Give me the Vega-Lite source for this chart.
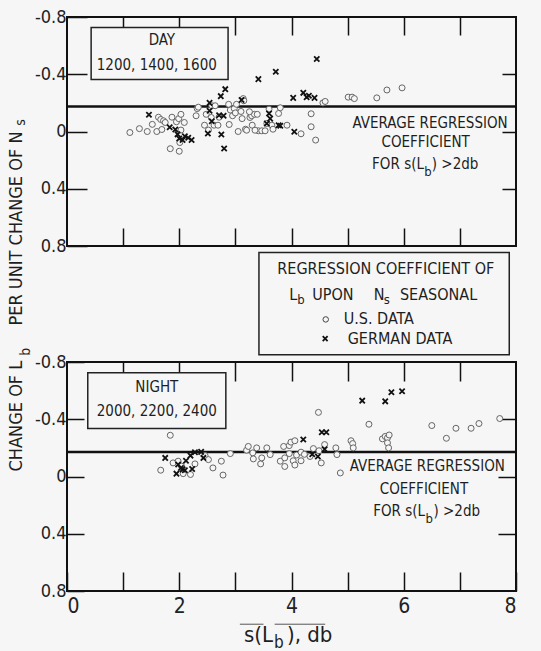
{
 "$schema": "https://vega.github.io/schema/vega-lite/v6.json",
 "background": "#f6f6f6",
 "padding": {"left": 7, "top": 7, "right": 25, "bottom": 20},
 "config": {
  "view": {"stroke": "#111", "strokeWidth": 2},
  "font": "DejaVu Sans Condensed, DejaVu Sans, sans-serif",
  "axis": {"labelFont": "DejaVu Sans Condensed, DejaVu Sans, sans-serif", "labelColor": "#222", "tickColor": "#111", "tickWidth": 1.5, "grid": false, "domain": false},
  "text": {"font": "DejaVu Sans Condensed, DejaVu Sans, sans-serif", "color": "#1e1e1e"}
 },
 "datasets": {
  "pts": [
   {"p":"day","s":"US","x":1.12,"y":0.007},{"p":"day","s":"US","x":1.29,"y":-0.02},{"p":"day","s":"US","x":1.43,"y":0.0},{"p":"day","s":"US","x":1.52,"y":-0.05},{"p":"day","s":"US","x":1.6,"y":0.0},{"p":"day","s":"US","x":1.63,"y":-0.1},{"p":"day","s":"US","x":1.67,"y":-0.084},{"p":"day","s":"US","x":1.69,"y":-0.014},{"p":"day","s":"US","x":1.72,"y":-0.075},{"p":"day","s":"US","x":1.75,"y":-0.063},{"p":"day","s":"US","x":1.87,"y":-0.1},{"p":"day","s":"US","x":1.84,"y":0.12},{"p":"day","s":"US","x":1.95,"y":-0.068},{"p":"day","s":"US","x":1.99,"y":-0.09},{"p":"day","s":"US","x":2.03,"y":-0.12},{"p":"day","s":"US","x":2.09,"y":-0.063},{"p":"day","s":"US","x":2.0,"y":0.138},{"p":"day","s":"US","x":2.01,"y":0.077},{"p":"day","s":"US","x":2.03,"y":-0.01},{"p":"day","s":"US","x":2.3,"y":-0.11},{"p":"day","s":"US","x":2.32,"y":-0.16},{"p":"day","s":"US","x":2.34,"y":-0.17},{"p":"day","s":"US","x":2.45,"y":-0.044},{"p":"day","s":"US","x":2.48,"y":-0.12},{"p":"day","s":"US","x":2.52,"y":-0.01},{"p":"day","s":"US","x":2.57,"y":-0.098},{"p":"day","s":"US","x":2.58,"y":-0.18},{"p":"day","s":"US","x":2.64,"y":-0.18},{"p":"day","s":"US","x":2.62,"y":-0.044},{"p":"day","s":"US","x":2.69,"y":-0.044},{"p":"day","s":"US","x":2.71,"y":-0.1},{"p":"day","s":"US","x":2.88,"y":-0.19},{"p":"day","s":"US","x":2.89,"y":-0.049},{"p":"day","s":"US","x":2.91,"y":-0.15},{"p":"day","s":"US","x":2.95,"y":-0.11},{"p":"day","s":"US","x":2.98,"y":-0.16},{"p":"day","s":"US","x":3.0,"y":-0.13},{"p":"day","s":"US","x":3.05,"y":0.0},{"p":"day","s":"US","x":3.1,"y":-0.14},{"p":"day","s":"US","x":3.12,"y":-0.09},{"p":"day","s":"US","x":3.14,"y":-0.23},{"p":"day","s":"US","x":3.15,"y":-0.215},{"p":"day","s":"US","x":3.18,"y":-0.016},{"p":"day","s":"US","x":3.26,"y":-0.098},{"p":"day","s":"US","x":3.29,"y":-0.11},{"p":"day","s":"US","x":3.34,"y":-0.12},{"p":"day","s":"US","x":3.39,"y":-0.12},{"p":"day","s":"US","x":3.3,"y":-0.044},{"p":"day","s":"US","x":3.41,"y":-0.005},{"p":"day","s":"US","x":3.47,"y":-0.005},{"p":"day","s":"US","x":3.53,"y":-0.005},{"p":"day","s":"US","x":3.56,"y":-0.056},{"p":"day","s":"US","x":3.6,"y":-0.156},{"p":"day","s":"US","x":3.65,"y":-0.044},{"p":"day","s":"US","x":3.67,"y":-0.016},{"p":"day","s":"US","x":3.77,"y":-0.126},{"p":"day","s":"US","x":3.8,"y":-0.166},{"p":"day","s":"US","x":3.92,"y":-0.044},{"p":"day","s":"US","x":4.17,"y":0.016},{"p":"day","s":"US","x":4.35,"y":-0.124},{"p":"day","s":"US","x":4.35,"y":-0.033},{"p":"day","s":"US","x":4.43,"y":0.06},{"p":"day","s":"US","x":4.56,"y":-0.2},{"p":"day","s":"US","x":4.6,"y":-0.21},{"p":"day","s":"US","x":5.01,"y":-0.24},{"p":"day","s":"US","x":5.08,"y":-0.24},{"p":"day","s":"US","x":5.12,"y":-0.23},{"p":"day","s":"US","x":5.52,"y":-0.235},{"p":"day","s":"US","x":5.7,"y":-0.29},{"p":"day","s":"US","x":5.97,"y":-0.305},{"p":"day","s":"US","x":3.02,"y":-0.19},{"p":"day","s":"US","x":3.25,"y":-0.138},{"p":"day","s":"US","x":3.2,"y":-0.009},{"p":"day","s":"US","x":3.35,"y":-0.009},
   {"p":"day","s":"DE","x":1.46,"y":-0.117},{"p":"day","s":"DE","x":1.83,"y":-0.03},{"p":"day","s":"DE","x":1.93,"y":-0.014},{"p":"day","s":"DE","x":1.97,"y":0.02},{"p":"day","s":"DE","x":2.0,"y":0.049},{"p":"day","s":"DE","x":2.06,"y":0.06},{"p":"day","s":"DE","x":2.1,"y":0.033},{"p":"day","s":"DE","x":2.16,"y":0.044},{"p":"day","s":"DE","x":2.22,"y":0.06},{"p":"day","s":"DE","x":2.51,"y":0.014},{"p":"day","s":"DE","x":2.54,"y":-0.2},{"p":"day","s":"DE","x":2.54,"y":-0.145},{"p":"day","s":"DE","x":2.58,"y":-0.072},{"p":"day","s":"DE","x":2.71,"y":-0.114},{"p":"day","s":"DE","x":2.74,"y":-0.247},{"p":"day","s":"DE","x":2.75,"y":0.021},{"p":"day","s":"DE","x":2.82,"y":-0.296},{"p":"day","s":"DE","x":2.8,"y":0.119},{"p":"day","s":"DE","x":2.79,"y":-0.11},{"p":"day","s":"DE","x":3.11,"y":-0.22},{"p":"day","s":"DE","x":3.41,"y":-0.366},{"p":"day","s":"DE","x":3.56,"y":-0.056},{"p":"day","s":"DE","x":3.6,"y":-0.126},{"p":"day","s":"DE","x":3.62,"y":-0.09},{"p":"day","s":"DE","x":3.72,"y":-0.417},{"p":"day","s":"DE","x":3.77,"y":-0.044},{"p":"day","s":"DE","x":3.8,"y":-0.04},{"p":"day","s":"DE","x":4.03,"y":-0.235},{"p":"day","s":"DE","x":4.05,"y":0.002},{"p":"day","s":"DE","x":4.21,"y":-0.27},{"p":"day","s":"DE","x":4.27,"y":-0.24},{"p":"day","s":"DE","x":4.31,"y":-0.25},{"p":"day","s":"DE","x":4.41,"y":-0.235},{"p":"day","s":"DE","x":4.45,"y":-0.506},
   {"p":"night","s":"US","x":1.67,"y":-0.044},{"p":"night","s":"US","x":1.84,"y":-0.288},{"p":"night","s":"US","x":1.89,"y":-0.095},{"p":"night","s":"US","x":1.98,"y":-0.107},{"p":"night","s":"US","x":2.04,"y":-0.072},{"p":"night","s":"US","x":2.07,"y":-0.02},{"p":"night","s":"US","x":2.2,"y":-0.014},{"p":"night","s":"US","x":2.28,"y":-0.088},{"p":"night","s":"US","x":2.46,"y":-0.146},{"p":"night","s":"US","x":2.52,"y":-0.118},{"p":"night","s":"US","x":2.6,"y":-0.06},{"p":"night","s":"US","x":2.75,"y":-0.107},{"p":"night","s":"US","x":2.78,"y":-0.01},{"p":"night","s":"US","x":2.91,"y":-0.16},{"p":"night","s":"US","x":3.2,"y":-0.184},{"p":"night","s":"US","x":3.23,"y":-0.21},{"p":"night","s":"US","x":3.31,"y":-0.165},{"p":"night","s":"US","x":3.32,"y":-0.123},{"p":"night","s":"US","x":3.38,"y":-0.2},{"p":"night","s":"US","x":3.45,"y":-0.088},{"p":"night","s":"US","x":3.47,"y":-0.13},{"p":"night","s":"US","x":3.56,"y":-0.2},{"p":"night","s":"US","x":3.62,"y":-0.153},{"p":"night","s":"US","x":3.8,"y":-0.107},{"p":"night","s":"US","x":3.86,"y":-0.21},{"p":"night","s":"US","x":3.88,"y":-0.13},{"p":"night","s":"US","x":3.88,"y":-0.07},{"p":"night","s":"US","x":3.96,"y":-0.216},{"p":"night","s":"US","x":3.99,"y":-0.24},{"p":"night","s":"US","x":4.06,"y":-0.25},{"p":"night","s":"US","x":3.96,"y":-0.16},{"p":"night","s":"US","x":4.03,"y":-0.11},{"p":"night","s":"US","x":4.06,"y":-0.08},{"p":"night","s":"US","x":4.09,"y":-0.15},{"p":"night","s":"US","x":4.17,"y":-0.11},{"p":"night","s":"US","x":4.17,"y":-0.17},{"p":"night","s":"US","x":4.23,"y":-0.155},{"p":"night","s":"US","x":4.33,"y":-0.14},{"p":"night","s":"US","x":4.39,"y":-0.195},{"p":"night","s":"US","x":4.48,"y":-0.448},{"p":"night","s":"US","x":4.49,"y":-0.18},{"p":"night","s":"US","x":4.53,"y":-0.095},{"p":"night","s":"US","x":4.59,"y":-0.223},{"p":"night","s":"US","x":4.79,"y":-0.2},{"p":"night","s":"US","x":4.81,"y":-0.153},{"p":"night","s":"US","x":4.87,"y":-0.025},{"p":"night","s":"US","x":5.06,"y":-0.25},{"p":"night","s":"US","x":5.09,"y":-0.23},{"p":"night","s":"US","x":5.1,"y":-0.2},{"p":"night","s":"US","x":5.38,"y":-0.365},{"p":"night","s":"US","x":5.62,"y":-0.263},{"p":"night","s":"US","x":5.67,"y":-0.28},{"p":"night","s":"US","x":5.71,"y":-0.27},{"p":"night","s":"US","x":5.74,"y":-0.29},{"p":"night","s":"US","x":5.71,"y":-0.235},{"p":"night","s":"US","x":5.73,"y":-0.2},{"p":"night","s":"US","x":6.5,"y":-0.356},{"p":"night","s":"US","x":6.76,"y":-0.267},{"p":"night","s":"US","x":6.93,"y":-0.337},{"p":"night","s":"US","x":7.2,"y":-0.337},{"p":"night","s":"US","x":7.34,"y":-0.37},{"p":"night","s":"US","x":7.71,"y":-0.405},
   {"p":"night","s":"DE","x":1.75,"y":-0.13},{"p":"night","s":"DE","x":1.95,"y":-0.02},{"p":"night","s":"DE","x":1.98,"y":-0.084},{"p":"night","s":"DE","x":2.03,"y":-0.06},{"p":"night","s":"DE","x":2.06,"y":-0.05},{"p":"night","s":"DE","x":2.1,"y":-0.044},{"p":"night","s":"DE","x":2.12,"y":-0.11},{"p":"night","s":"DE","x":2.2,"y":-0.146},{"p":"night","s":"DE","x":2.23,"y":-0.053},{"p":"night","s":"DE","x":2.28,"y":-0.17},{"p":"night","s":"DE","x":2.39,"y":-0.172},{"p":"night","s":"DE","x":2.43,"y":-0.13},{"p":"night","s":"DE","x":4.21,"y":-0.258},{"p":"night","s":"DE","x":4.37,"y":-0.155},{"p":"night","s":"DE","x":4.47,"y":-0.14},{"p":"night","s":"DE","x":4.54,"y":-0.309},{"p":"night","s":"DE","x":4.62,"y":-0.309},{"p":"night","s":"DE","x":4.59,"y":-0.19},{"p":"night","s":"DE","x":5.26,"y":-0.53},{"p":"night","s":"DE","x":5.67,"y":-0.525},{"p":"night","s":"DE","x":5.78,"y":-0.588},{"p":"night","s":"DE","x":5.97,"y":-0.595}
  ]
 },
 "spacing": 116,
 "bounds": "flush",
 "vconcat": [
  {
   "width": 449, "height": 229,
   "resolve": {"axis": {"x": "independent", "y": "independent"}},
   "layer": [
    {"data": {"values": [{"x": 0, "x2": 8, "y": -0.175}]},
     "mark": {"type": "rule", "strokeWidth": 2.5, "color": "#111"},
     "encoding": {
      "x": {"field": "x", "type": "quantitative", "scale": {"domain": [0, 8], "nice": false, "zero": false}, "axis": {"orient": "bottom", "values": [1,2,3,4,5,6,7], "tickSize": -18, "labels": false, "title": null}},
      "x2": {"field": "x2"},
      "y": {"field": "y", "type": "quantitative", "scale": {"domain": [-0.8, 0.8], "reverse": true, "nice": false, "zero": false}, "axis": {"orient": "left", "values": [-0.8,-0.4,0,0.4,0.8], "tickSize": -20, "labelFontSize": 18, "labelPadding": 21, "title": null, "labelExpr": "datum.value == 0 ? '0' : (datum.value < 0 ? '-' + format(-datum.value, '.1f') : format(datum.value, '.1f'))"}}
     }},
    {"data": {"name": "pts"}, "transform": [{"filter": "datum.p == 'day' && datum.s == 'US'"}],
     "mark": {"type": "point", "shape": "circle", "filled": true, "fill": "#f6f6f6", "stroke": "#666", "strokeWidth": 1, "size": 36, "opacity": 1},
     "encoding": {
      "x": {"field": "x", "type": "quantitative", "scale": {"domain": [0, 8], "nice": false, "zero": false}, "axis": {"orient": "top", "values": [1,2,3,4,5,6,7], "tickSize": -18, "labels": false, "title": null}},
      "y": {"field": "y", "type": "quantitative", "scale": {"domain": [-0.8, 0.8], "reverse": true, "nice": false, "zero": false}, "axis": {"orient": "right", "values": [-0.4,0,0.4], "tickSize": -14, "labels": false, "title": null}}
     }},
    {"data": {"name": "pts"}, "transform": [{"filter": "datum.p == 'day' && datum.s == 'DE'"}],
     "mark": {"type": "point", "shape": "M-1,-1L1,1M-1,1L1,-1", "filled": false, "stroke": "#111", "strokeWidth": 1.8, "size": 28, "opacity": 1},
     "encoding": {
      "x": {"field": "x", "type": "quantitative", "axis": null},
      "y": {"field": "y", "type": "quantitative", "axis": null}
     }},
    {"data": {"values": [{"x": 0.43, "x2": 2.87, "y": -0.727, "y2": -0.364}, {"x": 3.42, "x2": 7.88, "y": 0.846, "y2": 1.559}]},
     "mark": {"type": "rect", "fill": "#f6f6f6", "stroke": "#222", "strokeWidth": 1.5},
     "encoding": {"x": {"field": "x", "type": "quantitative", "axis": null}, "x2": {"field": "x2"}, "y": {"field": "y", "type": "quantitative", "axis": null}, "y2": {"field": "y2"}}},
    {"data": {"values": [
      {"x": 1.69, "y": -0.64, "t": "DAY"},
      {"x": 1.6, "y": -0.464, "t": "1200, 1400, 1600"},
      {"x": 6.47, "y": -0.06, "t": "AVERAGE REGRESSION"},
      {"x": 6.39, "y": 0.07, "t": "COEFFICIENT"}
     ]},
     "mark": {"type": "text", "fontSize": 15, "align": "center", "baseline": "middle"},
     "encoding": {"x": {"field": "x", "type": "quantitative", "axis": null}, "y": {"field": "y", "type": "quantitative", "axis": null}, "text": {"field": "t"}}},
    {"data": {"values": [
      {"x": 5.68, "y": 0.963, "t": "REGRESSION COEFFICIENT OF"},
      {"x": 4.03, "y": 1.145, "t": "L"},
      {"x": 5.56, "y": 1.145, "t": "N"},
      {"x": 6.62, "y": 1.145, "t": "SEASONAL"}
     ]},
     "mark": {"type": "text", "fontSize": 16, "align": "center", "baseline": "middle"},
     "encoding": {"x": {"field": "x", "type": "quantitative", "axis": null}, "y": {"field": "y", "type": "quantitative", "axis": null}, "text": {"field": "t"}}},
    {"data": {"values": [{"x": 6.36, "y": 0.224, "t": "FOR  s(L"}]},
     "mark": {"type": "text", "fontSize": 15, "align": "right", "baseline": "middle"},
     "encoding": {"x": {"field": "x", "type": "quantitative", "axis": null}, "y": {"field": "y", "type": "quantitative", "axis": null}, "text": {"field": "t"}}},
    {"data": {"values": [{"x": 6.5, "y": 0.224, "t": ") >2db"}]},
     "mark": {"type": "text", "fontSize": 15, "align": "left", "baseline": "middle"},
     "encoding": {"x": {"field": "x", "type": "quantitative", "axis": null}, "y": {"field": "y", "type": "quantitative", "axis": null}, "text": {"field": "t"}}},
    {"data": {"values": [
      {"x": 4.37, "y": 1.145, "t": "UPON"},
      {"x": 4.93, "y": 1.313, "t": "U.S.  DATA"},
      {"x": 5.0, "y": 1.447, "t": "GERMAN  DATA"}
     ]},
     "mark": {"type": "text", "fontSize": 16, "align": "left", "baseline": "middle"},
     "encoding": {"x": {"field": "x", "type": "quantitative", "axis": null}, "y": {"field": "y", "type": "quantitative", "axis": null}, "text": {"field": "t"}}},
    {"data": {"values": [
      {"x": 6.43, "y": 0.28, "t": "b"},
      {"x": 4.17, "y": 1.18, "t": "b"},
      {"x": 5.7, "y": 1.18, "t": "s"}
     ]},
     "mark": {"type": "text", "fontSize": 13, "align": "center", "baseline": "middle"},
     "encoding": {"x": {"field": "x", "type": "quantitative", "axis": null}, "y": {"field": "y", "type": "quantitative", "axis": null}, "text": {"field": "t"}}},
    {"data": {"values": [{"x": 4.61, "y": 1.313}]},
     "mark": {"type": "point", "shape": "circle", "filled": false, "stroke": "#444", "strokeWidth": 1, "size": 30, "opacity": 1},
     "encoding": {"x": {"field": "x", "type": "quantitative", "axis": null}, "y": {"field": "y", "type": "quantitative", "axis": null}}},
    {"data": {"values": [{"x": 4.6, "y": 1.447}]},
     "mark": {"type": "point", "shape": "M-1,-1L1,1M-1,1L1,-1", "filled": false, "stroke": "#111", "strokeWidth": 1.8, "size": 24, "opacity": 1},
     "encoding": {"x": {"field": "x", "type": "quantitative", "axis": null}, "y": {"field": "y", "type": "quantitative", "axis": null}}},
    {"data": {"values": [
      {"x": -0.89, "y": 1.601, "t": "CHANGE  OF  L"},
      {"x": -0.89, "y": 0.0, "t": "PER  UNIT  CHANGE  OF  N"}
     ]},
     "mark": {"type": "text", "fontSize": 18, "angle": 270, "align": "right", "baseline": "middle"},
     "encoding": {"x": {"field": "x", "type": "quantitative", "axis": null}, "y": {"field": "y", "type": "quantitative", "axis": null}, "text": {"field": "t"}}},
    {"data": {"values": [
      {"x": -0.73, "y": 1.538, "t": "b"},
      {"x": -0.82, "y": -0.063, "t": "s"}
     ]},
     "mark": {"type": "text", "fontSize": 14, "angle": 270, "align": "center", "baseline": "middle"},
     "encoding": {"x": {"field": "x", "type": "quantitative", "axis": null}, "y": {"field": "y", "type": "quantitative", "axis": null}, "text": {"field": "t"}}}
   ]
  },
  {
   "width": 449, "height": 229,
   "resolve": {"axis": {"x": "independent", "y": "independent"}},
   "layer": [
    {"data": {"values": [{"x": 0, "x2": 8, "y": -0.172}]},
     "mark": {"type": "rule", "strokeWidth": 2.5, "color": "#111"},
     "encoding": {
      "x": {"field": "x", "type": "quantitative", "scale": {"domain": [0, 8], "nice": false, "zero": false}, "axis": {"orient": "bottom", "values": [0,1,2,3,4,5,6,7,8], "tickSize": -19, "labelFontSize": 21, "labelPadding": 23, "title": null, "labelExpr": "datum.value % 2 == 0 ? datum.value : ''"}},
      "x2": {"field": "x2"},
      "y": {"field": "y", "type": "quantitative", "scale": {"domain": [-0.8, 0.8], "reverse": true, "nice": false, "zero": false}, "axis": {"orient": "left", "values": [-0.8,-0.4,0,0.4,0.8], "tickSize": -17, "labelFontSize": 18, "labelPadding": 18, "title": null, "labelExpr": "datum.value == 0 ? '0' : (datum.value < 0 ? '-' + format(-datum.value, '.1f') : format(datum.value, '.1f'))"}}
     }},
    {"data": {"name": "pts"}, "transform": [{"filter": "datum.p == 'night' && datum.s == 'US'"}],
     "mark": {"type": "point", "shape": "circle", "filled": true, "fill": "#f6f6f6", "stroke": "#666", "strokeWidth": 1, "size": 36, "opacity": 1},
     "encoding": {
      "x": {"field": "x", "type": "quantitative", "scale": {"domain": [0, 8], "nice": false, "zero": false}, "axis": {"orient": "top", "values": [1,2,3,4,5,6,7], "tickSize": -19, "labels": false, "title": null}},
      "y": {"field": "y", "type": "quantitative", "scale": {"domain": [-0.8, 0.8], "reverse": true, "nice": false, "zero": false}, "axis": {"orient": "right", "values": [-0.4,0,0.4], "tickSize": -18, "labels": false, "title": null}}
     }},
    {"data": {"name": "pts"}, "transform": [{"filter": "datum.p == 'night' && datum.s == 'DE'"}],
     "mark": {"type": "point", "shape": "M-1,-1L1,1M-1,1L1,-1", "filled": false, "stroke": "#111", "strokeWidth": 1.8, "size": 28, "opacity": 1},
     "encoding": {
      "x": {"field": "x", "type": "quantitative", "axis": null},
      "y": {"field": "y", "type": "quantitative", "axis": null}
     }},
    {"data": {"values": [{"x": 0.37, "x2": 2.83, "y": -0.725, "y2": -0.335}]},
     "mark": {"type": "rect", "fill": "#f6f6f6", "stroke": "#222", "strokeWidth": 1.5},
     "encoding": {"x": {"field": "x", "type": "quantitative", "axis": null}, "x2": {"field": "x2"}, "y": {"field": "y", "type": "quantitative", "axis": null}, "y2": {"field": "y2"}}},
    {"data": {"values": [
      {"x": 1.6, "y": -0.626, "t": "NIGHT"},
      {"x": 1.6, "y": -0.46, "t": "2000, 2200, 2400"},
      {"x": 6.42, "y": -0.072, "t": "AVERAGE REGRESSION"},
      {"x": 6.36, "y": 0.086, "t": "COEFFICIENT"}
     ]},
     "mark": {"type": "text", "fontSize": 15, "align": "center", "baseline": "middle"},
     "encoding": {"x": {"field": "x", "type": "quantitative", "axis": null}, "y": {"field": "y", "type": "quantitative", "axis": null}, "text": {"field": "t"}}},
    {"data": {"values": [{"x": 6.38, "y": 0.242, "t": "FOR  s(L"}]},
     "mark": {"type": "text", "fontSize": 15, "align": "right", "baseline": "middle"},
     "encoding": {"x": {"field": "x", "type": "quantitative", "axis": null}, "y": {"field": "y", "type": "quantitative", "axis": null}, "text": {"field": "t"}}},
    {"data": {"values": [{"x": 6.53, "y": 0.242, "t": ") >2db"}]},
     "mark": {"type": "text", "fontSize": 15, "align": "left", "baseline": "middle"},
     "encoding": {"x": {"field": "x", "type": "quantitative", "axis": null}, "y": {"field": "y", "type": "quantitative", "axis": null}, "text": {"field": "t"}}},
    {"data": {"values": [{"x": 6.455, "y": 0.3, "t": "b"}]},
     "mark": {"type": "text", "fontSize": 13, "align": "center", "baseline": "middle"},
     "encoding": {"x": {"field": "x", "type": "quantitative", "axis": null}, "y": {"field": "y", "type": "quantitative", "axis": null}, "text": {"field": "t"}}},
    {"data": {"values": [{"x": 3.67, "y": 1.158, "t": "s(L"}]},
     "mark": {"type": "text", "fontSize": 22, "align": "right", "baseline": "alphabetic"},
     "encoding": {"x": {"field": "x", "type": "quantitative", "axis": null}, "y": {"field": "y", "type": "quantitative", "axis": null}, "text": {"field": "t"}}},
    {"data": {"values": [{"x": 3.92, "y": 1.158, "t": "), db"}]},
     "mark": {"type": "text", "fontSize": 22, "align": "left", "baseline": "alphabetic"},
     "encoding": {"x": {"field": "x", "type": "quantitative", "axis": null}, "y": {"field": "y", "type": "quantitative", "axis": null}, "text": {"field": "t"}}},
    {"data": {"values": [{"x": 3.69, "y": 1.2, "t": "b"}]},
     "mark": {"type": "text", "fontSize": 17, "align": "left", "baseline": "alphabetic"},
     "encoding": {"x": {"field": "x", "type": "quantitative", "axis": null}, "y": {"field": "y", "type": "quantitative", "axis": null}, "text": {"field": "t"}}},
    {"data": {"values": [{"x": 3.08, "x2": 3.5, "y": 1.032}, {"x": 3.7, "x2": 4.6, "y": 1.032}]},
     "mark": {"type": "rule", "strokeWidth": 1, "color": "#555"},
     "encoding": {"x": {"field": "x", "type": "quantitative", "axis": null}, "x2": {"field": "x2"}, "y": {"field": "y", "type": "quantitative", "axis": null}}}
   ]
  }
 ]
}
